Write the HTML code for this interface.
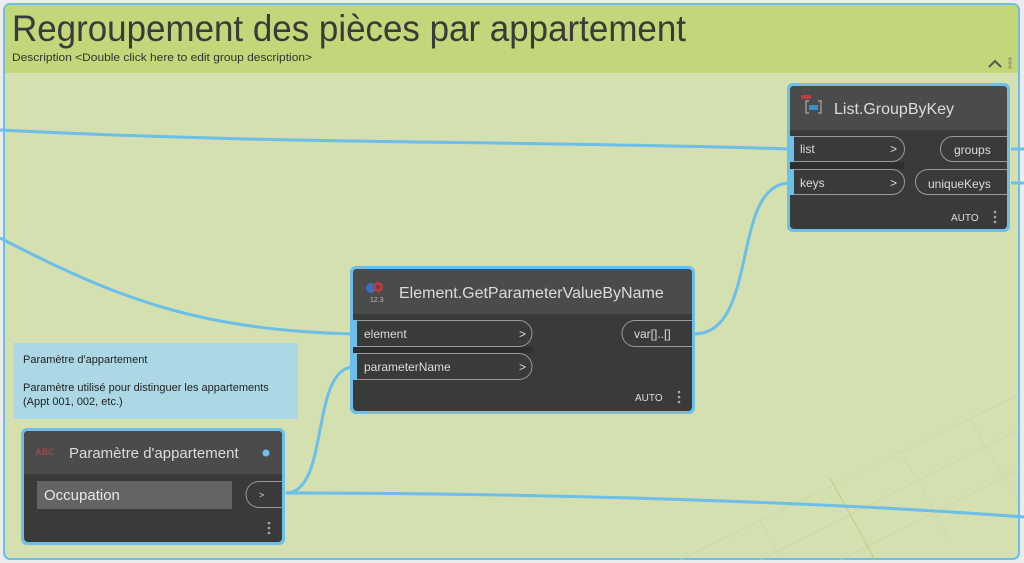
<!DOCTYPE html>
<html><head><meta charset="utf-8"><style>
html,body{margin:0;padding:0;background:#eeeeee;width:1024px;height:563px;overflow:hidden}
svg{display:block}
text{font-family:"Liberation Sans",sans-serif}
</style></head><body>
<svg width="1024" height="563" viewBox="0 0 1024 563" xmlns="http://www.w3.org/2000/svg">
<rect x="0" y="0" width="1024" height="563" fill="#ececec"/>
<rect x="4" y="4" width="1015" height="555" rx="6" fill="#d4e0b0" stroke="#6cbfe8" stroke-width="2"/>
<path d="M5 73 V10 Q5 5 10 5 H1013 Q1018 5 1018 10 V73 Z" fill="#c2d77a"/>
<g stroke="#c8d7a8" stroke-width="1" opacity="0.7">
<path d="M680 560 L1018 395 M760 560 L1018 430 M840 560 L1018 470"/>
<path d="M900 450 L950 540 M970 420 L1018 500 M760 520 L780 558"/>
</g>
<path d="M830 478 L875 560" stroke="#b5d08a" stroke-width="1"/>
<text x="12" y="41" font-size="37" fill="#3a3a3a" textLength="674" lengthAdjust="spacingAndGlyphs">Regroupement des pièces par appartement</text>
<text x="12" y="61" font-size="11" fill="#333" textLength="300" lengthAdjust="spacingAndGlyphs">Description &lt;Double click here to edit group description&gt;</text>
<path d="M989 67 L995 61 L1001 67" fill="none" stroke="#555" stroke-width="2"/>
<g fill="none" stroke="#8a8a6a" stroke-width="0.8"><circle cx="1010" cy="59" r="1.2"/><circle cx="1010" cy="63" r="1.2"/><circle cx="1010" cy="67" r="1.2"/></g>
<g fill="none" stroke="#6cbfe8" stroke-width="3">
<path d="M0 130 C300 145 500 140 790 149"/>
<path d="M0 238 C120 300 200 330 354 334"/>
<path d="M286 493 C330 493 310 367 354 367"/>
<path d="M286 493 C500 493 800 500 1024 517"/>
<path d="M694 334 C760 334 730 183 790 183"/>
<path d="M1011 149 H1024 M1011 183 H1024"/>
</g>
<rect x="787" y="83" width="223" height="149" rx="6" fill="#6cbfe8"/>
<rect x="790" y="86" width="217" height="143" rx="4" fill="#3a3a3a"/>
<path d="M790 130 V90 Q790 86 794 86 H1003 Q1007 86 1007 90 V130 Z" fill="#4b4b4b"/>
<rect x="801" y="95" width="10" height="4" rx="2" fill="#c04040"/>
<path d="M809 101 h-3 v12 h3 M818 101 h3 v12 h-3" fill="none" stroke="#aaa" stroke-width="1.2"/>
<rect x="809" y="105" width="9" height="5" fill="#3a8fd0"/>
<text x="834" y="114" font-size="16" fill="#dcdcdc">List.GroupByKey</text>
<rect x="790" y="136" width="4" height="26" fill="#6cbfe8"/>
<rect x="790" y="169" width="4" height="26" fill="#6cbfe8"/>
<rect x="790" y="162" width="114" height="7" fill="#2e2e2e"/>
<g fill="none" stroke="#9a9a9a" stroke-width="1">
<path d="M794 136.5 H892 A12.5 12.5 0 0 1 892 161.5 H794"/>
<path d="M794 169.5 H892 A12.5 12.5 0 0 1 892 194.5 H794"/>
<path d="M1007 136.5 H953 A12.5 12.5 0 0 0 953 161.5 H1007"/>
<path d="M1007 169.5 H928 A12.5 12.5 0 0 0 928 194.5 H1007"/>
</g>
<g font-size="12" fill="#dcdcdc">
<text x="800" y="153">list</text><text x="890" y="153">&gt;</text>
<text x="800" y="187">keys</text><text x="890" y="187">&gt;</text>
<text x="954" y="154">groups</text>
<text x="928" y="188">uniqueKeys</text>
<text x="951" y="221" font-size="10">AUTO</text>
</g>
<g fill="#aaa"><circle cx="995" cy="212" r="1.3"/><circle cx="995" cy="217" r="1.3"/><circle cx="995" cy="222" r="1.3"/></g>
<rect x="350" y="266" width="345" height="148" rx="6" fill="#6cbfe8"/>
<rect x="353" y="269" width="339" height="142" rx="4" fill="#3a3a3a"/>
<path d="M353 314 V273 Q353 269 357 269 H688 Q692 269 692 273 V314 Z" fill="#4b4b4b"/>
<circle cx="371" cy="288" r="5" fill="#3a6fc0"/>
<circle cx="378" cy="287" r="5" fill="#c03a3a"/>
<circle cx="378" cy="287" r="2" fill="#4b4b4b"/>
<text x="370" y="302" font-size="7" fill="#bbb">12.3</text>
<text x="399" y="298" font-size="16" fill="#dcdcdc">Element.GetParameterValueByName</text>
<rect x="353" y="320" width="4" height="27" fill="#6cbfe8"/>
<rect x="353" y="353" width="4" height="27" fill="#6cbfe8"/>
<rect x="353" y="347" width="180" height="6" fill="#2e2e2e"/>
<g fill="none" stroke="#9a9a9a" stroke-width="1">
<path d="M357 320.5 H519 A13 13 0 0 1 519 346.5 H357"/>
<path d="M357 353.5 H519 A13 13 0 0 1 519 379.5 H357"/>
<path d="M692 320.5 H635 A13 13 0 0 0 635 346.5 H692"/>
</g>
<g font-size="12" fill="#dcdcdc">
<text x="364" y="338">element</text><text x="519" y="338">&gt;</text>
<text x="364" y="371">parameterName</text><text x="519" y="371">&gt;</text>
<text x="634" y="338">var[]..[]</text>
<text x="635" y="401" font-size="10">AUTO</text>
</g>
<g fill="#aaa"><circle cx="679" cy="392" r="1.3"/><circle cx="679" cy="397" r="1.3"/><circle cx="679" cy="402" r="1.3"/></g>
<rect x="13" y="343" width="285" height="76" fill="#acd8e6"/>
<g font-size="11" fill="#222">
<text x="23" y="363">Paramètre d'appartement</text>
<text x="23" y="391">Paramètre utilisé pour distinguer les appartements</text>
<text x="23" y="405">(Appt 001, 002, etc.)</text>
</g>
<rect x="21" y="428" width="264" height="117" rx="6" fill="#6cbfe8"/>
<rect x="24" y="431" width="258" height="111" rx="4" fill="#3a3a3a"/>
<path d="M24 474 V435 Q24 431 28 431 H278 Q282 431 282 435 V474 Z" fill="#4b4b4b"/>
<text x="35" y="455" font-size="9" font-weight="bold" fill="#a04848">ABC</text>
<text x="69" y="458" font-size="15" fill="#dcdcdc">Paramètre d'appartement</text>
<circle cx="266" cy="453" r="3.5" fill="#6cbfe8"/>
<rect x="37" y="481" width="195" height="28" fill="#646464"/>
<text x="44" y="500" font-size="15" fill="#e8e8e8">Occupation</text>
<path d="M282 481.5 H259 A13 13 0 0 0 259 507.5 H282" fill="none" stroke="#9a9a9a"/>
<text x="259" y="498" font-size="9" fill="#ddd">&gt;</text>
<g fill="#aaa"><circle cx="269" cy="523" r="1.3"/><circle cx="269" cy="528" r="1.3"/><circle cx="269" cy="533" r="1.3"/></g>
</svg>
</body></html>
